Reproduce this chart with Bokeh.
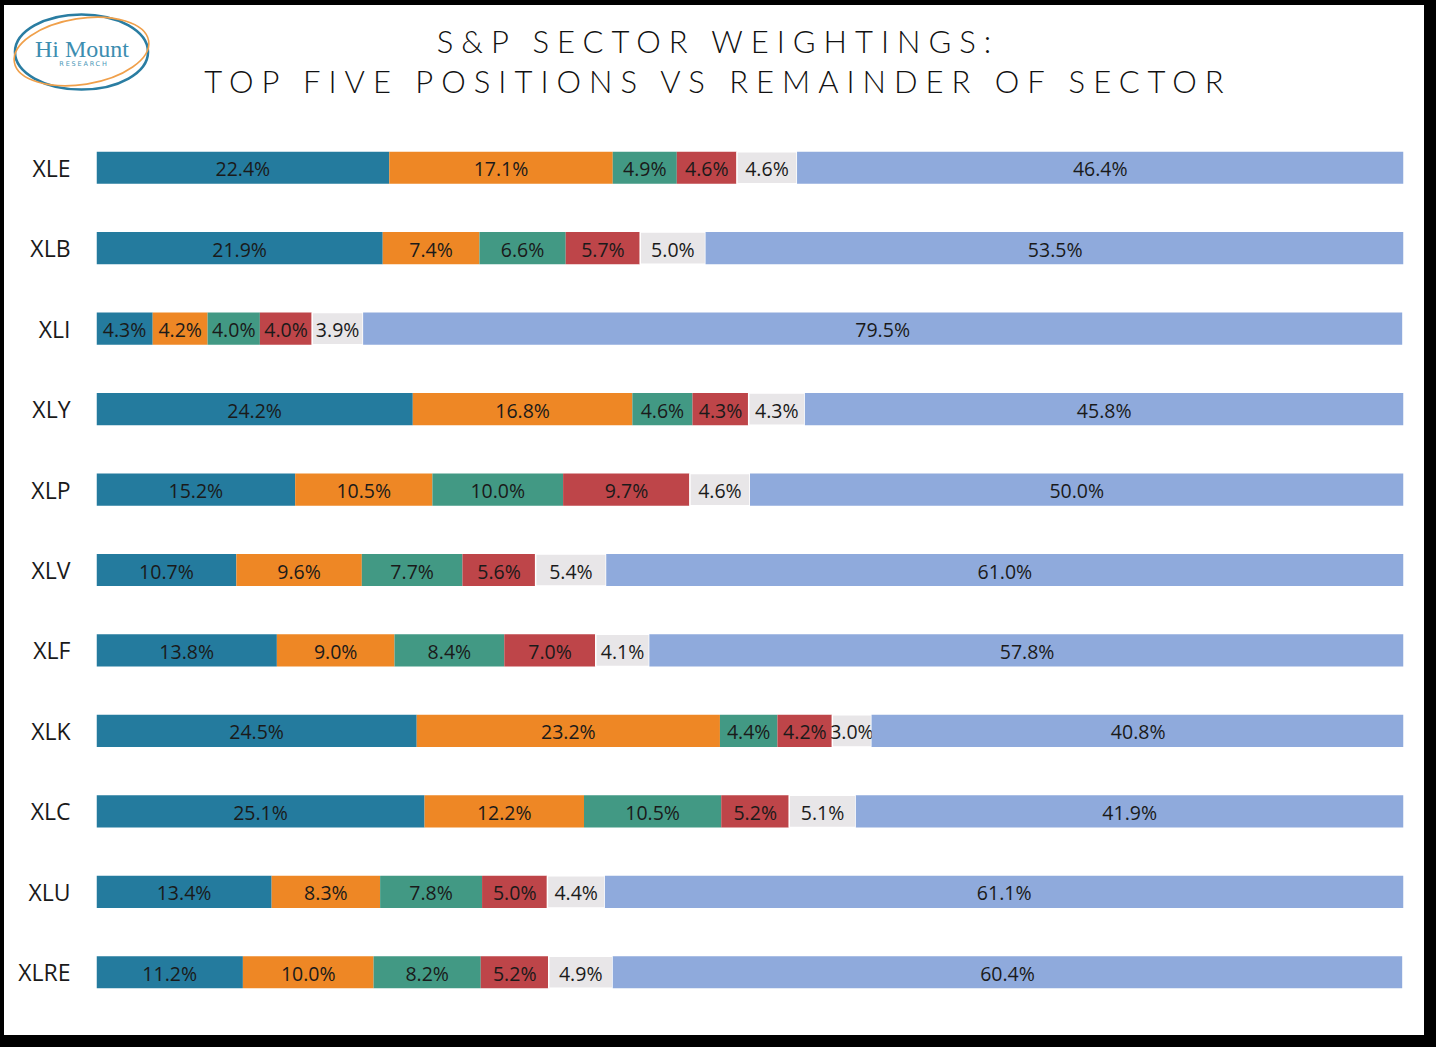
from bokeh.plotting import figure
from bokeh.models import ColumnDataSource, FactorRange, Range1d, Div
from bokeh.layouts import column
from bokeh.core.properties import value
from bokeh.embed import file_html
from bokeh.resources import INLINE

# ---------------- data ----------------
tickers = ["XLE", "XLB", "XLI", "XLY", "XLP", "XLV", "XLF", "XLK", "XLC", "XLU", "XLRE"]
pos1 = [22.4, 21.9, 4.3, 24.2, 15.2, 10.7, 13.8, 24.5, 25.1, 13.4, 11.2]
pos2 = [17.1, 7.4, 4.2, 16.8, 10.5, 9.6, 9.0, 23.2, 12.2, 8.3, 10.0]
pos3 = [4.9, 6.6, 4.0, 4.6, 10.0, 7.7, 8.4, 4.4, 10.5, 7.8, 8.2]
pos4 = [4.6, 5.7, 4.0, 4.3, 9.7, 5.6, 7.0, 4.2, 5.2, 5.0, 5.2]
pos5 = [4.6, 5.0, 3.9, 4.3, 4.6, 5.4, 4.1, 3.0, 5.1, 4.4, 4.9]
rest = [46.4, 53.5, 79.5, 45.8, 50.0, 61.0, 57.8, 40.8, 41.9, 61.1, 60.4]

series_names = ["pos1", "pos2", "pos3", "pos4", "pos5", "rest"]
series_values = [pos1, pos2, pos3, pos4, pos5, rest]
colors = ["#247B9E", "#EE8725", "#429984", "#BE4549", "#E8E6E8", "#8FAADC"]

TITLE_1 = "S&amp;P SECTOR WEIGHTINGS:"
TITLE_2 = "TOP FIVE POSITIONS VS REMAINDER OF SECTOR"

# ---------------- figure ----------------
W = 1420          # white panel width
HEAD = 115        # header height
H = 915           # figure height
p = figure(
    width=W, height=H,
    y_range=FactorRange(*reversed(tickers)),
    x_range=Range1d(0, 100),
    output_backend="svg", toolbar_location=None,
    min_border_left=92, min_border_right=21, min_border_top=7, min_border_bottom=23,
    background_fill_color="white", border_fill_color="white",
    outline_line_color=None,
)

for i, (n, c) in enumerate(zip(series_names, colors)):
    left_vals = [sum(series_values[k][j] for k in range(i)) for j in range(len(tickers))]
    right_vals = [l + series_values[i][j] for j, l in enumerate(left_vals)]
    centers = [(l + r) / 2 for l, r in zip(left_vals, right_vals)]
    labels = ["%.1f%%" % v for v in series_values[i]]
    s = ColumnDataSource(dict(y=tickers, left=left_vals, right=right_vals, xc=centers, lab=labels))
    if n == "pos5":
        p.hbar(y="y", left="left", right="right", height=0.4, source=s,
               fill_color=c, line_color="white", line_width=1.5)
    else:
        p.hbar(y="y", left="left", right="right", height=0.4, source=s,
               fill_color=c, line_color=None)
    p.text(x="xc", y="y", text="lab", source=s, text_align="center",
           text_baseline="middle", y_offset=1,
           text_font=value("Open Sans"), text_font_size="19.5px", text_color="#1a1a1a")

p.xaxis.visible = False
p.xgrid.visible = False
p.ygrid.visible = False
yax = p.yaxis[0]
yax.axis_line_color = None
yax.major_tick_line_color = None
yax.minor_tick_line_color = None
yax.major_tick_out = 0
yax.major_tick_in = 0
yax.major_label_text_font = "Open Sans"
yax.major_label_text_font_size = "23px"
yax.major_label_text_color = "#1a1a1a"
yax.major_label_standoff = 26

# ---------------- header (logo + title) ----------------
header_html = f"""
<div style="position:relative;width:{W}px;height:{HEAD}px;background:white;">
  <svg style="position:absolute;left:0px;top:0px;" width="160" height="100" viewBox="0 0 160 100">
    <ellipse cx="77.5" cy="47" rx="66.5" ry="37.5" fill="none" stroke="#2A7DA2" stroke-width="2.6"/>
    <ellipse cx="77.5" cy="46.5" rx="68" ry="33" fill="none" stroke="#F0A04B" stroke-width="1.6"
             transform="rotate(-9 77.5 46.5)"/>
    <text x="78" y="52" text-anchor="middle" style="font-family:'Liberation Serif', serif;font-size:24px;"
          fill="#3C8DB0">Hi Mount</text>
    <text x="80" y="61" text-anchor="middle" style="font-family:'DejaVu Sans', sans-serif;font-size:6.5px;letter-spacing:1.8px;"
          fill="#4A97B8">RESEARCH</text>
  </svg>
  <div style="position:absolute;left:0;top:16px;width:{W}px;text-align:center;box-sizing:border-box;padding-left:8px;
              font-family:Lato, 'Open Sans', sans-serif;font-weight:300;font-size:31px;
              line-height:40px;letter-spacing:8px;color:#111;">
    {TITLE_1}<br>{TITLE_2}
  </div>
</div>
"""
header = Div(text=header_html, width=W, height=HEAD, margin=0)

inner = column(header, p, width=W, height=HEAD + H, spacing=0, margin=(5, 0, 0, 4),
               styles={"background-color": "white"})
outer = column(inner, width=1436, height=1047, margin=0,
               styles={"background-color": "black"})

open("out.html", "w").write(file_html(outer, INLINE))
